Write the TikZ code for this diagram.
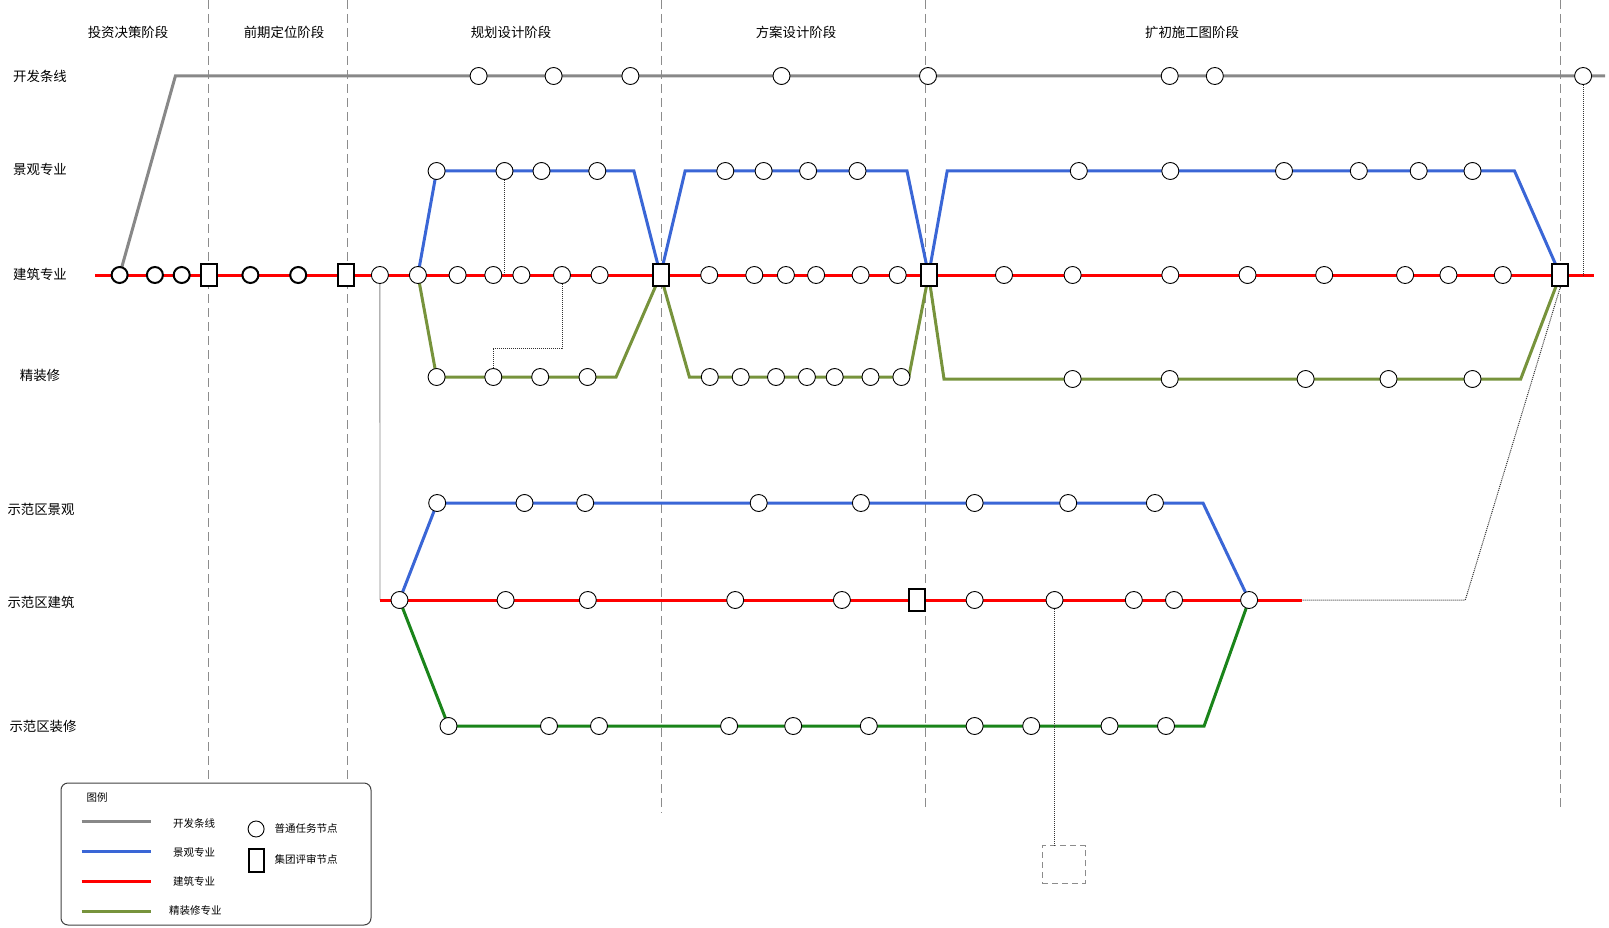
\documentclass[tikz,border=0pt]{standalone}
\usepackage{fontspec}
\setmainfont{Noto Sans CJK SC}
\definecolor{kfgray}{HTML}{888888}
\definecolor{jgblue}{HTML}{3A66D6}
\definecolor{jzred}{HTML}{FF0000}
\definecolor{jzolive}{HTML}{77933C}
\definecolor{sfgreen}{HTML}{1A841A}
\definecolor{sepgray}{HTML}{8C8C8C}
\definecolor{linkgray}{HTML}{333333}
\usetikzlibrary{backgrounds}
\tikzset{
  task/.style={circle,draw=black,fill=white,line width=0.9pt,minimum size=17pt,inner sep=0pt},
  taskb/.style={task,line width=2pt,minimum size=16pt},
  review/.style={rectangle,draw=black,fill=white,line width=2pt,minimum width=16pt,
                 minimum height=22pt,inner sep=0pt},
  gline/.style={draw=kfgray,line width=3pt},
  bline/.style={draw=jgblue,line width=3pt},
  rline/.style={draw=jzred,line width=3pt},
  oline/.style={draw=jzolive,line width=3pt},
  dline/.style={draw=sfgreen,line width=3pt},
  sep/.style={draw=sepgray,line width=1pt,dash pattern=on 9pt off 5pt},
  link/.style={draw=linkgray,line width=1pt,densely dotted},
  feed/.style={draw=kfgray,line width=0.9pt},
  rowlbl/.style={font=\fontsize{13.4}{16}\selectfont,inner sep=0pt},
  leglbl/.style={font=\fontsize{10.5}{13}\selectfont,inner sep=0pt}
}

\begin{document}
\begin{tikzpicture}[x=1pt,y=-1pt]
    \useasboundingbox (0,0) rectangle (1609,928);
    % stage titles and row labels
    \node[rowlbl] (st1) at (128,32) {投资决策阶段};
    \node[rowlbl] (st2) at (284,32) {前期定位阶段};
    \node[rowlbl] (st3) at (511,32) {规划设计阶段};
    \node[rowlbl] (st4) at (796,32) {方案设计阶段};
    \node[rowlbl] (st5) at (1192,32) {扩初施工图阶段};
    \node[rowlbl] (lkf) at (40,76) {开发条线};
    \node[rowlbl] (ljg) at (40,169) {景观专业};
    \node[rowlbl] (ljz) at (40,274) {建筑专业};
    \node[rowlbl] (ljx) at (40,375) {精装修};
    \node[rowlbl] (lsj) at (41,509) {示范区景观};
    \node[rowlbl] (lsz) at (41,602) {示范区建筑};
    \node[rowlbl] (lsx) at (43,726) {示范区装修};
    % review nodes
    \node[review] (v1) at (208.5,275) {};
    \node[review] (v2) at (345.7,275) {};
    \node[review] (v3) at (660.5,275) {};
    \node[review] (v4) at (928.6,275) {};
    \node[review] (v5) at (1560.3,275) {};
    \node[review] (v6) at (917.2,600) {};
    % task nodes
    \foreach \n/\x in {r1/119.6,r2/154.9,r3/181.7,r4/250.4,r5/298.2}
      \node[taskb] (\n) at (\x,275) {};
    \foreach \n/\x in {r6/379.9,r7/417.9,r8/457.6,r9/493.3,r10/521.4,r11/562,r12/599.6,
                       r13/709.2,r14/754.3,r15/785.9,r16/816.1,r17/860.6,r18/897.7,
                       r19/1004,r20/1072.6,r21/1170.3,r22/1247.5,r23/1324.2,r24/1405.1,
                       r25/1448.4,r26/1502.8}
      \node[task] (\n) at (\x,275) {};
    \foreach \n/\x in {g1/478.6,g2/553.6,g3/630.4,g4/781.5,g5/928,g6/1169.7,g7/1214.8,g8/1583.1}
      \node[task] (\n) at (\x,76) {};
    \foreach \n/\x in {b1/436.6,b2/504.5,b3/541.5,b4/597.3,b5/725.3,b6/763.6,b7/808.1,b8/857.5,
                       b9/1078.8,b10/1170.3,b11/1284,b12/1358.8,b13/1418.7,b14/1472.5}
      \node[task] (\n) at (\x,171) {};
    \foreach \n/\x in {o1/436.6,o2/493.3,o3/540.2,o4/587.5,o5/709.8,o6/740.7,o7/776,o8/806.9,
                       o9/834.7,o10/870.5,o11/901.4}
      \node[task] (\n) at (\x,377) {};
    \foreach \n/\x in {o12/1072.6,o13/1169.7,o14/1305.6,o15/1388.5,o16/1472.5}
      \node[task] (\n) at (\x,379) {};
    \foreach \n/\x in {d1/399.5,d2/505.6,d3/587.8,d4/735.2,d5/841.9,d6/974.6,d7/1054.5,
                       d8/1133.8,d9/1174,d10/1249.1}
      \node[task] (\n) at (\x,600) {};
    \foreach \n/\x in {s1/437.2,s2/524.5,s3/585.2,s4/758.7,s5/860.9,s6/974.6,s7/1068.2,s8/1154.9}
      \node[task] (\n) at (\x,503) {};
    \foreach \n/\x in {t1/448.5,t2/549,t3/599,t4/729.1,t5/793.2,t6/868.8,t7/974.6,t8/1031.2,
                       t9/1109.5,t10/1166}
      \node[task] (\n) at (\x,726) {};
    % bends and line ends
    \coordinate (ra) at (95.4,275);   \coordinate (rb) at (1594,275);
    \coordinate (gk) at (175.4,76);   \coordinate (gb) at (1605,76);
    \coordinate (bk1) at (633.9,171); \coordinate (bk2) at (685.1,171);
    \coordinate (bk3) at (907,171);   \coordinate (bk4) at (947.2,171);
    \coordinate (bk5) at (1514.5,171);
    \coordinate (ok1) at (616.1,377); \coordinate (ok2) at (689.4,377);
    \coordinate (ok3) at (908.8,377); \coordinate (ok4) at (944,379);
    \coordinate (ok5) at (1520.7,379);
    \coordinate (da) at (380,600);    \coordinate (db) at (1302,600);
    \coordinate (sk1) at (1203,503);  \coordinate (tk1) at (1204.1,726);
    \coordinate (k1) at (562,348);    \coordinate (k2) at (1465.3,600);
    \node[draw=sepgray,line width=1pt,dash pattern=on 6pt off 4pt,minimum width=43pt,
          minimum height=37.6pt] (hold) at (1063.5,864.5) {};
    \begin{scope}[on background layer]
      \foreach \x/\b in {208.5/780,347.8/780,661.2/813,925.5/810,1560.5/807}
        \draw[sep] (\x,0) -- (\x,\b);
      \draw[rline] (ra) -- (rb);
      \draw[gline] (r1.center) -- (gk) -- (gb);
      \draw[bline] (r7.center) -- (b1.center) -- (bk1) -- (v3.center) -- (bk2) -- (bk3)
                   -- (v4.center) -- (bk4) -- (bk5) -- (v5.center);
      \draw[oline] (r7.center) -- (o1.center) -- (ok1) -- (v3.center) -- (ok2) -- (ok3)
                   -- (v4.center) -- (ok4) -- (ok5) -- (v5.center);
      \draw[feed] (r6.center) -- (da);
      \draw[rline] (da) -- (db);
      \draw[bline] (d1.center) -- (s1.center) -- (sk1) -- (d10.center);
      \draw[dline] (d1.center) -- (t1.center) -- (tk1) -- (d10.center);
    \end{scope}
    % dotted links
    \draw[link] (b2) -- (b2 |- r9.center);
    \draw[link] (r11) -- (k1) -| (o2);
    \draw[link] (g8) -- (g8 |- v5.center);
    \draw[link] (v5.south) -- (k2) -- (db);
    \draw[link] (d7) -- (d7 |- hold.north);
    % legend
    \node[draw=black!75,line width=1pt,rounded corners=7pt,minimum width=310pt,
          minimum height=142pt] (leg) at (216,854) {};
    \node[leglbl] (legt) at (97,798) {图例};
    \node[leglbl] (lk1) at (194,824) {开发条线};
    \node[leglbl] (lk2) at (194,852.3) {景观专业};
    \node[leglbl] (lk3) at (194,881) {建筑专业};
    \node[leglbl] (lk4) at (195.4,911) {精装修专业};
    \draw[gline] (81.6,821.7) -- ++(69,0);
    \draw[bline] (81.6,851.7) -- ++(69,0);
    \draw[rline] (81.6,881.7) -- ++(69,0);
    \draw[oline] (81.6,911.7) -- ++(69,0);
    \node[task,minimum size=16pt] (lc) at (256.1,829) {};
    \node[review,minimum width=15pt,minimum height=23pt] (lr) at (256,860) {};
    \node[leglbl] (lct) at (306,828) {普通任务节点};
    \node[leglbl] (lrt) at (306,859) {集团评审节点};
  \end{tikzpicture}
\end{document}
